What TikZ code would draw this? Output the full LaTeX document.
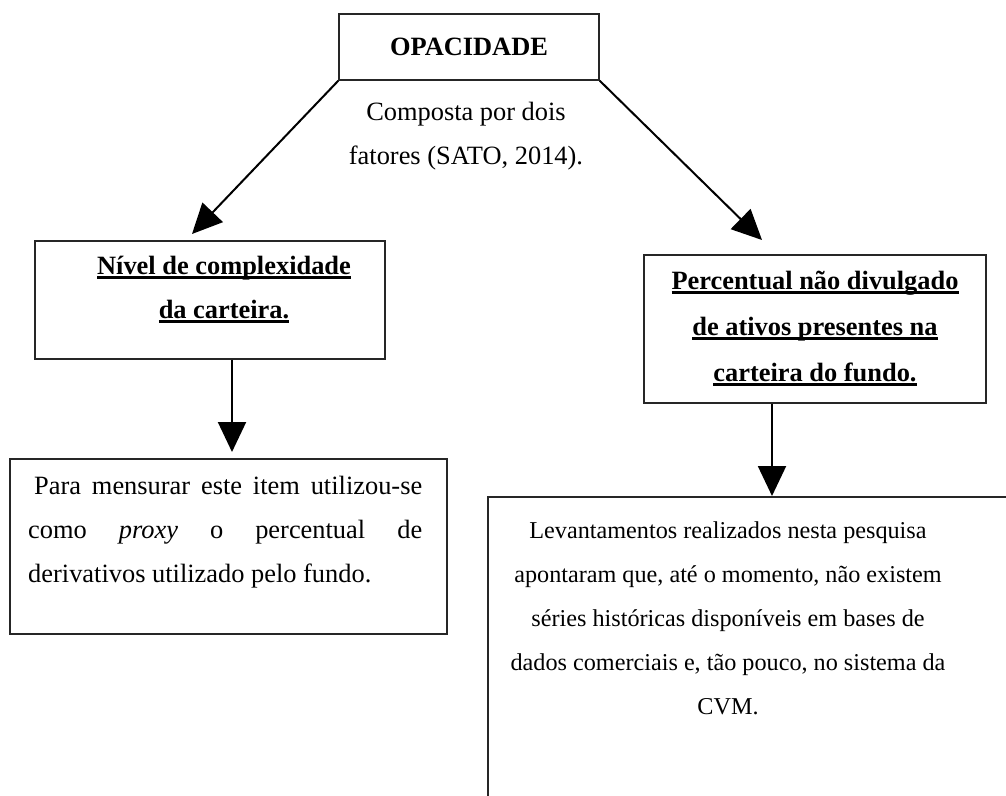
\documentclass[tikz,border=0pt]{standalone}
\usepackage{fontspec}
\setmainfont{Liberation Serif}
\usetikzlibrary{arrows.meta}
\newcommand{\ulbox}[1]{\setbox0\hbox{#1}\leavevmode\rlap{\rule[-4.5pt]{\wd0}{2.4pt}}\box0}
\newcommand{\fs}{\rule{0pt}{20pt}}
\begin{document}
\begin{tikzpicture}[x=1pt,y=-1pt,
  box/.style={draw=black!85,line width=1.4pt,inner sep=0pt},
  arr/.style={line width=2pt,-{Triangle[length=30pt,width=28pt]}},
  txt/.style={inner sep=0pt,font=\fontsize{26.4}{44}\selectfont},
  btxt/.style={inner sep=0pt,font=\fontsize{26.4}{44}\selectfont\bfseries},
  btxtb/.style={inner sep=0pt,font=\fontsize{26.4}{46}\selectfont\bfseries},
  stxt/.style={inner sep=0pt,font=\fontsize{24.2}{44}\selectfont},
]
\useasboundingbox (0,0) rectangle (1006,795);
\clip (0,0) rectangle (1006,795);
\fill[white] (0,0) rectangle (1006,795);

% boxes
\node[box,minimum width=260pt,minimum height=66pt,font=\fontsize{26.4}{30}\selectfont\bfseries] (op) at (469,47) {OPACIDADE};
\node[box,minimum width=350pt,minimum height=118pt] (lb) at (210,300) {};
\node[box,minimum width=437pt,minimum height=175pt] (pb) at (228.5,546.5) {};
\node[box,minimum width=342pt,minimum height=148pt] (rb) at (815,329) {};
\node[box,minimum width=542pt,minimum height=320pt] (bb) at (759,657) {};

% texts
\node[txt,align=center,anchor=north] (comp) at (466,100) {\fs Composta por dois\\fatores (SATO, 2014).};
\node[btxt,align=center,anchor=north] (lt) at (224,254) {\fs\ulbox{Nível de complexidade}\\\ulbox{da carteira.}};
\node[btxtb,align=center,anchor=north] (rt) at (815,269) {\fs\ulbox{Percentual não divulgado}\\\ulbox{de ativos presentes na}\\\ulbox{carteira do fundo.}};
\node[txt,text width=394pt,align=justify,anchor=north west] (pt) at (28,474) {\hyphenpenalty=10000\exhyphenpenalty=10000\sloppy\fs\hspace*{6pt}Para mensurar este item utilizou-se\linebreak como \textit{proxy} o percentual de\linebreak derivativos utilizado pelo fundo.};
\node[stxt,align=center,anchor=north] (bt) at (728,518) {\fs Levantamentos realizados nesta pesquisa\\apontaram que, até o momento, não existem\\séries históricas disponíveis em bases de\\dados comerciais e, tão pouco, no sistema da\\CVM.};

% arrows
\coordinate (t1) at (192,234);
\coordinate (t2) at (762,240);
\coordinate (t3) at (232,452);
\coordinate (t4) at (772,496);
\draw[arr] (op.south west) -- (t1);
\draw[arr] (op.south east) -- (t2);
\draw[arr] (lb.south -| t3) -- (t3);
\draw[arr] (rb.south -| t4) -- (t4);
\end{tikzpicture}
\end{document}
